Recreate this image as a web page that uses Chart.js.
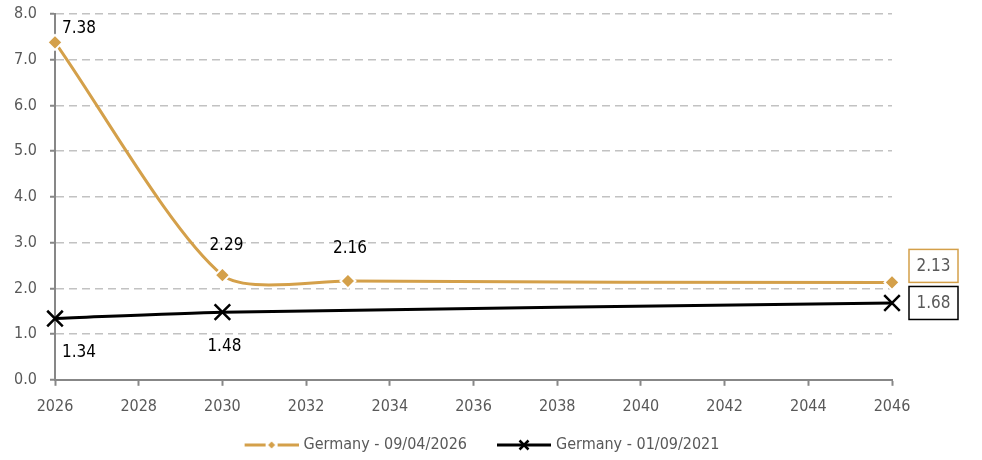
<!DOCTYPE html>
<html>
<head>
<meta charset="utf-8">
<script src="https://cdn.jsdelivr.net/npm/chart.js@4/dist/chart.umd.min.js"></script>
<style>
  html, body { margin: 0; padding: 0; background: #fff; }
  #wrap { width: 982px; height: 460px; }
</style>
</head>
<body>
<div id="wrap"><canvas id="chart" width="982" height="460"></canvas></div>
<script>
// data
const years2026 = [2026, 2030, 2033, 2046];
const values2026 = [7.38, 2.29, 2.16, 2.13];
const years2021 = [2026, 2030, 2046];
const values2021 = [1.34, 1.48, 1.68];
const seriesNames = ['Germany - 09/04/2026', 'Germany - 01/09/2021'];

const GOLD = '#D4A04A';
const BLACK = '#000000';
const GREY_TEXT = '#595959';
const AXIS = '#878787';
const FONT = "'DejaVu Sans Condensed', 'DejaVu Sans', sans-serif";

// label placement: [dx, dy, align] per point, 'box' for the end value
const labelPlacement = [
  [[7, -14, 'left'], [4, -30, 'center'], [2, -32, 'center'], 'box'],
  [[7, 34, 'left'], [2, 34, 'center'], 'box']
];

// legend symbol: line with marker, blank margin on the left for item spacing
function legendSymbol(color, marker) {
  const L = 23;
  const c = document.createElement('canvas');
  c.width = L + 54; c.height = 12;
  const g = c.getContext('2d');
  g.strokeStyle = color;
  g.fillStyle = color;
  g.lineWidth = 3;
  if (marker === 'diamond') {
    g.beginPath(); g.moveTo(L, 6); g.lineTo(L + 21, 6); g.moveTo(L + 33, 6); g.lineTo(L + 54, 6); g.stroke();
    g.beginPath(); g.moveTo(L + 27, 2.5); g.lineTo(L + 30.5, 6); g.lineTo(L + 27, 9.5); g.lineTo(L + 23.5, 6); g.closePath(); g.fill();
  } else {
    g.beginPath(); g.moveTo(L, 6); g.lineTo(L + 54, 6); g.stroke();
    g.lineWidth = 2.5;
    g.beginPath(); g.moveTo(L + 22.5, 1.5); g.lineTo(L + 31.5, 10.5); g.moveTo(L + 31.5, 1.5); g.lineTo(L + 22.5, 10.5); g.stroke();
  }
  return c;
}

const valueLabels = {
  id: 'valueLabels',
  afterDatasetsDraw(chart) {
    const ctx = chart.ctx;
    ctx.save();
    ctx.textBaseline = 'middle';
    chart.data.datasets.forEach((ds, di) => {
      const meta = chart.getDatasetMeta(di);
      meta.data.forEach((pt, i) => {
        const text = ds.data[i].y.toFixed(2);
        const place = labelPlacement[di][i];
        ctx.font = '17px ' + FONT;
        if (place === 'box') {
          const bx = pt.x + 17, bw = 49, bh = 33;
          const cy = di === 0 ? pt.y - 16.5 : pt.y;
          ctx.fillStyle = '#fff';
          ctx.fillRect(bx, cy - bh / 2, bw, bh);
          ctx.strokeStyle = ds.borderColor;
          ctx.lineWidth = 1.5;
          ctx.strokeRect(bx, cy - bh / 2, bw, bh);
          ctx.fillStyle = GREY_TEXT;
          ctx.textAlign = 'center';
          ctx.fillText(text, bx + bw / 2, cy + 1);
        } else {
          ctx.fillStyle = '#000';
          ctx.textAlign = place[2];
          ctx.fillText(text, pt.x + place[0], pt.y + place[1]);
        }
      });
    });
    ctx.restore();
  }
};

// centre the legend on the canvas rather than the padded area
const legendCentre = {
  id: 'legendCentre',
  afterLayout(chart) {
    const lg = chart.legend;
    lg.left = 0;
    lg.right = chart.width - 38;
    lg.width = lg.right - lg.left;
  }
};

new Chart(document.getElementById('chart'), {
  type: 'line',
  data: {
    datasets: [
      {
        label: seriesNames[0],
        data: years2026.map((x, i) => ({ x, y: values2026[i] })),
        borderColor: GOLD,
        backgroundColor: GOLD,
        borderWidth: 3,
        tension: 0.25,
        clip: false,
        pointStyle: 'rectRot',
        pointRadius: 7.5,
        pointBorderColor: '#fff',
        pointBorderWidth: 2,
        legendSymbol: legendSymbol(GOLD, 'diamond')
      },
      {
        label: seriesNames[1],
        data: years2021.map((x, i) => ({ x, y: values2021[i] })),
        borderColor: BLACK,
        backgroundColor: BLACK,
        borderWidth: 3,
        tension: 0.25,
        clip: false,
        pointStyle: 'crossRot',
        pointRadius: 11,
        pointBorderWidth: 2.5,
        legendSymbol: legendSymbol(BLACK, 'cross')
      }
    ]
  },
  options: {
    responsive: false,
    animation: false,
    layout: { padding: { top: 14, right: 90, left: 0, bottom: -3 } },
    scales: {
      x: {
        type: 'linear',
        min: 2026,
        max: 2046,
        ticks: {
          stepSize: 2,
          color: GREY_TEXT,
          font: { family: FONT, size: 16 },
          padding: 11,
          callback: v => String(v)
        },
        grid: { drawOnChartArea: false, drawTicks: true, tickLength: 6, tickColor: AXIS, tickWidth: 2 },
        border: { color: AXIS, width: 2 }
      },
      y: {
        min: 0,
        max: 8,
        afterFit(scale) {
          scale.width = 55;
          scale.paddingTop = 0;
          scale.paddingBottom = 0;
        },
        ticks: {
          stepSize: 1,
          color: GREY_TEXT,
          font: { family: FONT, size: 16 },
          padding: 13,
          callback: v => v.toFixed(1)
        },
        grid: {
          color: '#c2c2c2',
          lineWidth: 1.5,
          tickLength: 5,
          tickColor: AXIS,
          tickWidth: 2,
          tickBorderDash: []
        },
        border: { color: AXIS, width: 2, dash: [8, 5] }
      }
    },
    plugins: {
      tooltip: { enabled: false },
      legend: {
        position: 'bottom',
        labels: {
          usePointStyle: true,
          pointStyleWidth: 71,
          boxHeight: 12,
          padding: 10,
          color: GREY_TEXT,
          font: { family: FONT, size: 16 },
          generateLabels(chart) {
            return Chart.defaults.plugins.legend.labels.generateLabels(chart).map(item => {
              item.pointStyle = chart.data.datasets[item.datasetIndex].legendSymbol;
              return item;
            });
          }
        }
      }
    }
  },
  plugins: [valueLabels, legendCentre]
});
</script>
</body>
</html>
